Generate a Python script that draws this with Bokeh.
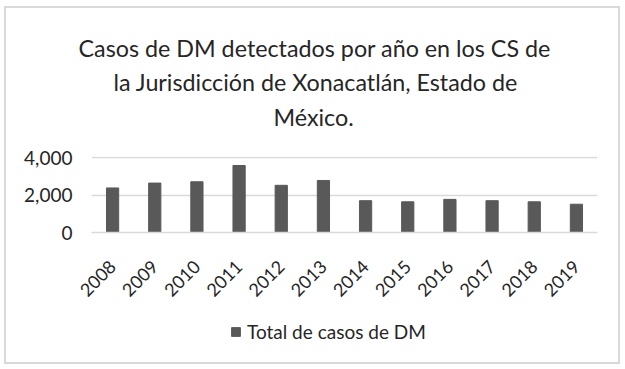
import math
from bokeh.plotting import figure
from bokeh.layouts import column
from bokeh.models import (ColumnDataSource, Range1d, FixedTicker, NumeralTickFormatter,
                          Legend, LegendItem, Title)
from bokeh.embed import file_html
from bokeh.resources import INLINE

years = ["2008", "2009", "2010", "2011", "2012", "2013",
         "2014", "2015", "2016", "2017", "2018", "2019"]
casos = [2380, 2640, 2710, 3580, 2520, 2780, 1700, 1640, 1770, 1700, 1640, 1510]
y_ticks = [0, 2000, 4000]
title_lines = ["Casos de DM detectados por año en los CS de",
               "la Jurisdicción de Xonacatlán, Estado de",
               "México."]
series_name = "Total de casos de DM"

FONT = "Lato"
TXT = "#262626"
BAR = "#595959"
EDGE = "2px solid #d9d9d9"

src = ColumnDataSource(dict(year=years, casos=casos))

# ---- main chart -------------------------------------------------------------
p = figure(x_range=years, y_range=Range1d(0, 4060), width=616, height=299,
           output_backend="svg", toolbar_location=None,
           min_border_left=85, min_border_right=25, min_border_top=148,
           min_border_bottom=75,
           styles={"margin-left": "4px", "margin-top": "6px",
                   "border-top": EDGE, "border-left": EDGE, "border-right": EDGE})
p.title = None
p.outline_line_color = None
p.background_fill_color = "white"
p.border_fill_color = "white"

r = p.vbar(x="year", top="casos", width=0.29, source=src, color=BAR)

p.yaxis.ticker = FixedTicker(ticks=y_ticks)
p.yaxis.formatter = NumeralTickFormatter(format="0,0")
p.yaxis.axis_line_color = None
p.yaxis.major_tick_line_color = None
p.yaxis.minor_tick_line_color = None
p.yaxis.major_tick_out = 0
p.yaxis.major_label_standoff = 19
p.yaxis.major_label_text_font = FONT
p.yaxis.major_label_text_font_size = "19px"
p.yaxis.major_label_text_color = TXT

p.xaxis.axis_line_color = "#d9d9d9"
p.xaxis.axis_line_width = 1.5
p.xaxis.major_tick_line_color = None
p.xaxis.minor_tick_line_color = None
p.xaxis.major_tick_out = 0
p.xaxis.major_label_orientation = math.pi / 4
p.xaxis.major_label_standoff = 31
p.xaxis.major_label_text_font = FONT
p.xaxis.major_label_text_font_size = "18px"
p.xaxis.major_label_text_color = TXT

p.xgrid.grid_line_color = None
p.ygrid.grid_line_color = "#d9d9d9"
p.ygrid.grid_line_width = 1.5

# spacer between the plot frame and the title block
p.add_layout(Title(text=" ", text_font_size="1px", standoff=18), "above")
# title lines, added from the frame outward (left-aligned with offsets so
# that each line is centred on the chart area rather than on the plot frame)
title_offsets = [182, 22, -13]
title_standoffs = [9, 1, 8]
for line, off, so in zip(reversed(title_lines), title_offsets, title_standoffs):
    p.add_layout(Title(text=line, align="left", offset=off, text_font=FONT,
                       text_font_size="23.3px", text_font_style="normal",
                       text_color=TXT, standoff=so), "above")

# ---- legend strip -----------------------------------------------------------
pl = figure(x_range=years, y_range=Range1d(-2, -1), width=616, height=59,
            output_backend="svg", toolbar_location=None,
            x_axis_location=None, y_axis_location=None, min_border=0,
            styles={"margin-left": "4px", "border-bottom": EDGE,
                    "border-left": EDGE, "border-right": EDGE})
pl.title = None
pl.outline_line_color = None
pl.grid.visible = False
pl.border_fill_color = "white"
rl = pl.vbar(x="year", top="casos", width=0.29, source=src, color=BAR)
rl.visible = False  # only serves as the legend's swatch

legend = Legend(items=[LegendItem(label=series_name, renderers=[rl])],
                location=(139, 21), orientation="horizontal",
                border_line_color=None, background_fill_alpha=0,
                inactive_fill_alpha=0,
                padding=0, margin=0, glyph_width=11, glyph_height=11,
                label_standoff=6, label_text_font=FONT,
                label_text_font_size="19px", label_text_color=TXT)
pl.add_layout(legend)

layout = column(p, pl, spacing=0)
open("out.html", "w").write(file_html(layout, INLINE))
